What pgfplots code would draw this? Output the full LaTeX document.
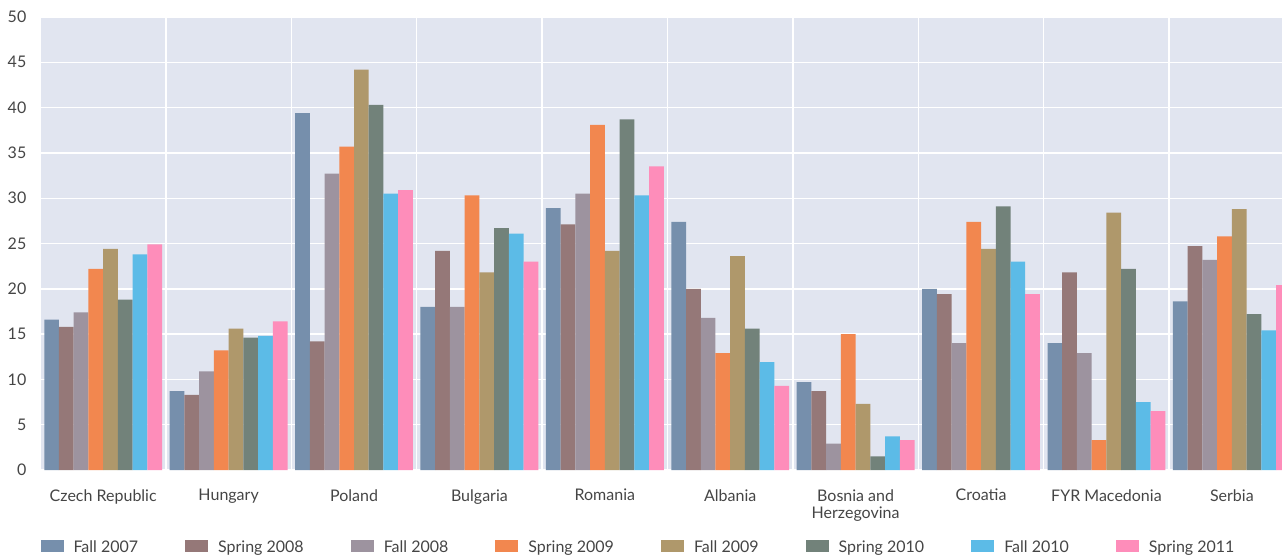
\documentclass[border=0pt]{standalone}
\usepackage{pgfplots}
\usepackage{pgfplotstable}
\pgfplotsset{compat=1.18}
\usepackage{fontspec}
\setmainfont{Lato}

\definecolor{cFa07}{HTML}{768FAC}
\definecolor{cSp08}{HTML}{957878}
\definecolor{cFa08}{HTML}{9D939F}
\definecolor{cSp09}{HTML}{F2874F}
\definecolor{cFa09}{HTML}{AF986B}
\definecolor{cSp10}{HTML}{72827A}
\definecolor{cFa10}{HTML}{5CBBE7}
\definecolor{cSp11}{HTML}{FE8DBA}
\definecolor{panel}{HTML}{E1E5F0}
\definecolor{txt}{HTML}{454545}

% share of respondents by survey wave
\pgfplotstableread{
x  fa07 sp08 fa08 sp09 fa09 sp10 fa10 sp11
0  16.6 15.8 17.4 22.2 24.4 18.8 23.8 24.9
1  8.7  8.3  10.9 13.2 15.6 14.6 14.8 16.4
2  39.4 14.2 32.7 35.7 44.2 40.3 30.5 30.9
3  18.0 24.2 18.0 30.3 21.8 26.7 26.1 23.0
4  28.9 27.1 30.5 38.1 24.2 38.7 30.3 33.5
5  27.4 20.0 16.8 12.9 23.6 15.6 11.9 9.3
6  9.7  8.7  2.9  15.0 7.3  1.5  3.7  3.3
7  20.0 19.4 14.0 27.4 24.4 29.1 23.0 19.4
8  14.0 21.8 12.9 3.3  28.4 22.2 7.5  6.5
9  18.6 24.7 23.2 25.8 28.8 17.2 15.4 20.4
}\waves

\begin{document}
\begin{tikzpicture}
\begin{axis}[
  scale only axis,
  width=1241.5pt, height=453pt,
  ybar=0pt, bar width=0.1175,
  xmin=-0.5, xmax=9.40, ymin=0, ymax=50,
  ytick={0,5,...,50},
  xtick={0,...,9},
  xticklabels={Czech Republic,Hungary,Poland,Bulgaria,Romania,Albania,{Bosnia and\\Herzegovina},Croatia,FYR Macedonia,Serbia},
  minor xtick={0.5,1.5,...,8.5},
  xminorgrids=true, ymajorgrids=true, xmajorgrids=false,
  major grid style={white, line width=1.4pt},
  minor grid style={white, line width=1.4pt},
  axis background/.style={fill=panel},
  axis line style={draw=none},
  major tick length=0pt, minor tick length=0pt,
  tick style={draw=none},
  /pgf/number format/assume math mode=true,
  tick label style={font=\fontsize{16}{17}\selectfont, text=txt},
  yticklabel style={inner sep=0pt, anchor=east, xshift=-14pt},
  xticklabel style={inner sep=0pt, anchor=north, align=center, yshift=-19pt},
  legend columns=8,
  legend style={
    at={(rel axis cs:0,0)}, anchor=north west, yshift=-70pt,
    draw=none, fill=none, inner sep=0pt, outer sep=0pt,
    font=\fontsize{16}{17}\selectfont, text=txt,
    nodes={inner sep=0pt},
    /tikz/every odd column/.append style={column sep=10pt},
    /tikz/every even column/.append style={column sep=47pt},
  },
  legend image code/.code={\fill[#1] (0pt,-4.5pt) rectangle (23pt,7.5pt);},
]
\addplot[fill=cFa07, draw=none] table[x=x, y=fa07] {\waves};
\addplot[fill=cSp08, draw=none] table[x=x, y=sp08] {\waves};
\addplot[fill=cFa08, draw=none] table[x=x, y=fa08] {\waves};
\addplot[fill=cSp09, draw=none] table[x=x, y=sp09] {\waves};
\addplot[fill=cFa09, draw=none] table[x=x, y=fa09] {\waves};
\addplot[fill=cSp10, draw=none] table[x=x, y=sp10] {\waves};
\addplot[fill=cFa10, draw=none] table[x=x, y=fa10] {\waves};
\addplot[fill=cSp11, draw=none] table[x=x, y=sp11] {\waves};
\legend{Fall 2007,Spring 2008,Fall 2008,Spring 2009,Fall 2009,Spring 2010,Fall 2010,Spring 2011}
\end{axis}
\pgfresetboundingbox
\path[use as bounding box] ([shift={(-40.5pt,-87pt)}]current axis.south west) rectangle ([shift={(0pt,17pt)}]current axis.north east);
\end{tikzpicture}
\end{document}
